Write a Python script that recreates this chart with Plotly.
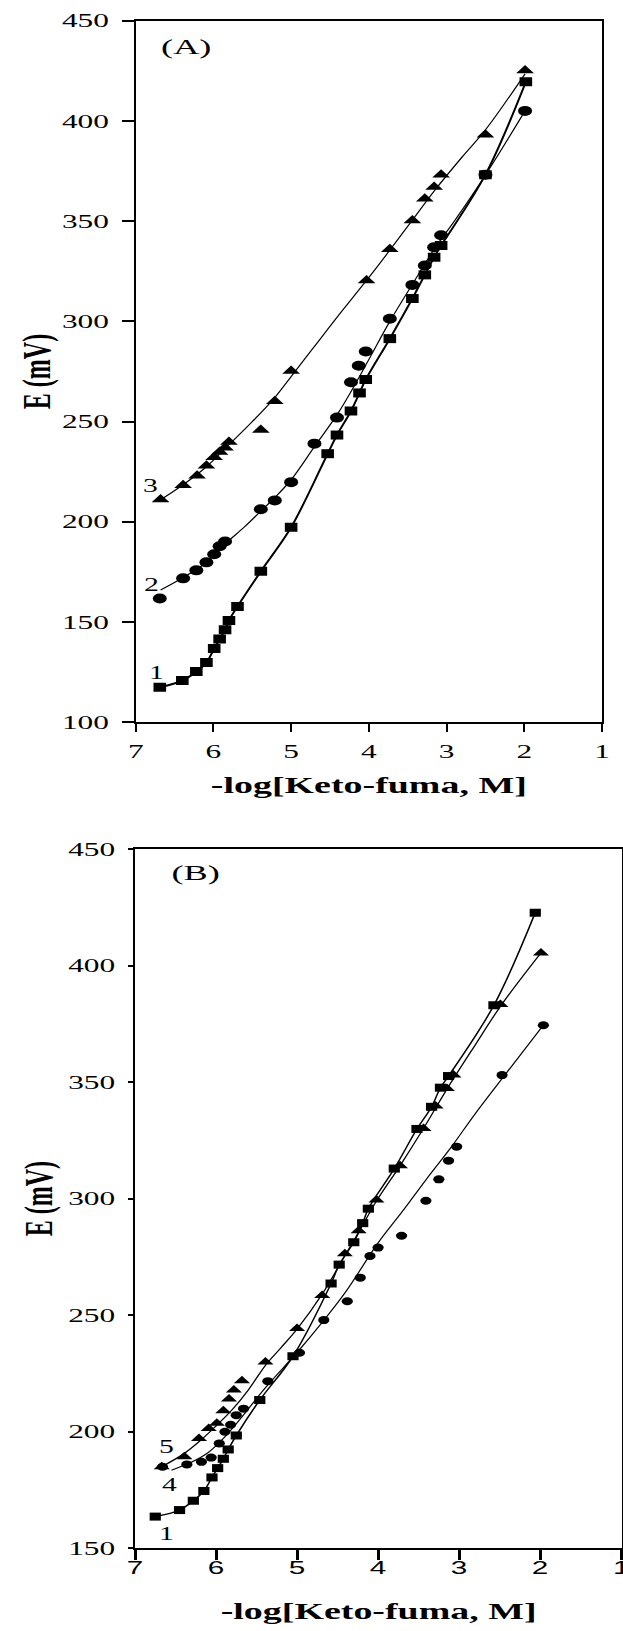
import plotly.graph_objects as go

# ---------------- Panel A data ----------------
a1_x = [6.69, 6.40, 6.22, 6.09, 5.99, 5.92, 5.85, 5.80, 5.69, 5.39, 5.00, 4.53, 4.41, 4.23, 4.12, 4.04, 3.73, 3.44, 3.28, 3.16, 3.07, 2.50, 1.98]
a1_y = [117.5, 120.8, 125.3, 129.8, 136.8, 141.5, 146.2, 150.8, 157.8, 175.3, 197.3, 234.0, 243.3, 255.3, 264.3, 271.0, 291.4, 311.4, 323.2, 332.0, 337.8, 373.2, 419.5]

a2_x = [6.69, 6.39, 6.22, 6.09, 5.99, 5.92, 5.85, 5.39, 5.21, 5.00, 4.70, 4.41, 4.23, 4.13, 4.04, 3.73, 3.44, 3.28, 3.16, 3.07, 2.50, 1.99]
a2_y = [161.8, 171.8, 175.8, 179.8, 183.8, 187.8, 190.2, 206.3, 210.7, 219.8, 239.0, 252.0, 269.6, 277.9, 285.0, 301.3, 318.2, 327.9, 337.0, 343.0, 373.2, 405.0]

a3_x = [6.68, 6.39, 6.21, 6.09, 5.99, 5.92, 5.85, 5.80, 5.39, 5.21, 5.00, 4.03, 3.73, 3.44, 3.28, 3.16, 3.07, 2.50, 1.99]
a3_y = [211.2, 218.2, 223.0, 228.0, 232.2, 234.8, 237.0, 239.8, 245.8, 260.2, 275.3, 320.4, 336.0, 350.3, 361.2, 367.0, 373.2, 393.1, 425.1]

# fitted curves
a2_fit_x = [6.68, 6.40, 6.10, 5.85, 5.60, 5.40, 5.20, 5.00, 4.70, 4.40, 4.20, 4.00, 3.73, 3.44, 3.16, 2.90, 2.50, 1.99]
a2_fit_y = [166.0, 172.0, 179.5, 189.0, 197.5, 205.0, 212.5, 221.0, 237.5, 254.0, 267.0, 281.0, 300.0, 318.5, 336.0, 350.0, 373.0, 405.0]
a3_fit_x = [6.68, 6.39, 6.09, 5.80, 5.50, 5.21, 5.00, 4.70, 4.40, 4.03, 3.73, 3.44, 3.16, 2.80, 2.50, 1.99]
a3_fit_y = [211.0, 218.5, 227.5, 238.5, 250.0, 262.0, 272.5, 287.5, 302.5, 320.4, 335.5, 350.5, 365.0, 382.0, 395.5, 423.5]

# ---------------- Panel B data ----------------
b1_x = [6.75, 6.45, 6.28, 6.15, 6.05, 5.98, 5.91, 5.85, 5.75, 5.46, 5.05, 4.58, 4.48, 4.30, 4.19, 4.12, 3.80, 3.52, 3.34, 3.23, 3.13, 2.57, 2.06]
b1_y = [163.6, 166.4, 170.4, 174.6, 180.4, 184.4, 188.4, 192.4, 198.4, 213.6, 232.4, 263.6, 271.7, 281.3, 289.5, 295.7, 312.9, 329.9, 339.4, 347.6, 352.6, 383.0, 422.7]

b5_x = [6.67, 6.39, 6.21, 6.09, 5.99, 5.91, 5.84, 5.78, 5.68, 5.39, 5.00, 4.69, 4.41, 4.24, 4.02, 3.73, 3.44, 3.29, 3.15, 3.07, 2.49, 1.99]
b5_y = [185.0, 189.3, 197.1, 201.4, 203.6, 209.0, 214.1, 217.9, 221.9, 229.9, 244.3, 258.4, 276.4, 286.2, 299.4, 314.1, 330.1, 339.7, 347.3, 353.0, 383.3, 405.4]

b4_x = [6.66, 6.36, 6.18, 6.06, 5.96, 5.89, 5.82, 5.75, 5.66, 5.36, 4.97, 4.67, 4.38, 4.22, 4.10, 4.00, 3.71, 3.41, 3.25, 3.13, 3.03, 2.47, 1.96]
b4_y = [185.0, 186.0, 187.1, 188.9, 195.0, 200.0, 203.0, 207.1, 209.9, 221.7, 233.9, 247.9, 256.0, 266.1, 275.4, 279.0, 284.1, 299.1, 308.3, 316.3, 322.3, 353.0, 374.4]

b5_fit_x = [6.67, 6.40, 6.20, 6.00, 5.80, 5.60, 5.39, 5.20, 5.00, 4.69, 4.41, 4.24, 4.02, 3.73, 3.44, 3.15, 2.80, 2.49, 1.99]
b5_fit_y = [185.0, 190.5, 196.0, 202.5, 209.5, 218.0, 228.5, 236.0, 244.0, 259.0, 275.5, 285.5, 299.0, 314.1, 330.1, 347.0, 366.0, 382.5, 405.4]
b4_fit_x = [6.55, 6.30, 6.10, 5.90, 5.70, 5.40, 5.00, 4.70, 4.40, 4.00, 3.70, 3.40, 3.10, 2.80, 2.47, 1.96]
b4_fit_y = [183.5, 187.0, 191.0, 197.5, 205.5, 218.5, 234.0, 246.5, 260.0, 281.0, 294.5, 308.5, 322.0, 336.5, 351.5, 374.4]

# curve labels
lab_a = ["1", "2", "3"]
lab_a_x = [6.73, 6.80, 6.81]
lab_a_y = [124.5, 168.7, 217.8]
lab_b = ["1", "4", "5"]
lab_b_x = [6.61, 6.58, 6.61]
lab_b_y = [156.1, 177.1, 193.6]

x_ticks = [7, 6, 5, 4, 3, 2, 1]
ya_ticks = [100, 150, 200, 250, 300, 350, 400, 450]
yb_ticks = [150, 200, 250, 300, 350, 400, 450]

SERIF = "Liberation Serif, Times New Roman, serif"
SANS = "Liberation Sans, Arial, sans-serif"

fig = go.Figure()

def line(x, y, xa, ya, w=1.2):
    fig.add_trace(go.Scatter(x=x, y=y, mode="lines", xaxis=xa, yaxis=ya,
                             line=dict(color="black", width=w, shape="spline", smoothing=1.0),
                             hoverinfo="skip", showlegend=False))

def pts(x, y, xa, ya, sym, size):
    fig.add_trace(go.Scatter(x=x, y=y, mode="markers", xaxis=xa, yaxis=ya,
                             marker=dict(symbol=sym, size=size, color="black", line=dict(width=0)),
                             showlegend=False))

# Panel A
line(a1_x, a1_y, "x", "y", 2.0)
line(a2_fit_x, a2_fit_y, "x", "y")
line(a3_fit_x, a3_fit_y, "x", "y")
pts(a1_x, a1_y, "x", "y", "square", 9)
pts(a2_x, a2_y, "x", "y", "circle", 10)
pts(a3_x, a3_y, "x", "y", "triangle-up", 11)

# Panel B
line(b1_x, b1_y, "x2", "y2", 1.5)
line(b5_fit_x, b5_fit_y, "x2", "y2", 1.3)
line(b4_fit_x, b4_fit_y, "x2", "y2", 1.2)
pts(b1_x, b1_y, "x2", "y2", "square", 8)
pts(b5_x, b5_y, "x2", "y2", "triangle-up", 10)
pts(b4_x, b4_y, "x2", "y2", "circle", 8)

ann = []
for t, x, y in zip(lab_a, lab_a_x, lab_a_y):
    ann.append(dict(text=t, x=x, y=y, xref="x", yref="y", showarrow=False,
                    font=dict(family=SERIF, size=18, color="black")))
for t, x, y in zip(lab_b, lab_b_x, lab_b_y):
    ann.append(dict(text=t, x=x, y=y, xref="x2", yref="y2", showarrow=False,
                    font=dict(family=SERIF, size=18, color="black")))
ann.append(dict(text="(A)", x=6.35, y=437, xref="x", yref="y", showarrow=False,
                font=dict(family=SERIF, size=22, color="black")))
ann.append(dict(text="(B)", x=6.25, y=440, xref="x2", yref="y2", showarrow=False,
                font=dict(family=SERIF, size=22, color="black")))

axis_common = dict(showgrid=False, zeroline=False, showline=True, linecolor="black",
                   linewidth=2, mirror=True, ticks="outside", tickcolor="black",
                   automargin=False)

W, H = 623, 1631
fig.update_layout(
    width=W, height=H, margin=dict(l=0, r=0, t=0, b=0, autoexpand=False),
    plot_bgcolor="white", paper_bgcolor="white", showlegend=False,
    annotations=ann,
    xaxis=dict(axis_common, domain=[135.7 / W, 602 / W], range=[7, 1], tickvals=x_ticks,
               ticklen=8, tickwidth=2, ticklabelstandoff=3,
               tickfont=dict(family=SERIF, size=19, color="black"),
               title=dict(text="<b>-log[Keto-fuma, M]</b>", standoff=16,
                          font=dict(family=SERIF, size=23, color="black")),
               anchor="y"),
    yaxis=dict(axis_common, domain=[(H - 722.3) / H, (H - 20.7) / H], range=[100, 450],
               tickvals=ya_ticks, ticklen=12, tickwidth=2, ticklabelstandoff=9,
               tickfont=dict(family=SERIF, size=19, color="black"),
               title=dict(text="<b>E (mV)</b>", standoff=28,
                          font=dict(family=SERIF, size=24, color="black")),
               anchor="x"),
    xaxis2=dict(axis_common, domain=[135 / W, 0.999], range=[7, 0.985], tickvals=x_ticks,
                ticklen=10, tickwidth=3, ticklabelstandoff=-8, ticklabeloverflow="allow",
                tickfont=dict(family=SANS, size=18, color="black"),
                title=dict(text="<b>-log[Keto-fuma, M]</b>", standoff=26,
                           font=dict(family=SERIF, size=23, color="black")),
                anchor="y2"),
    yaxis2=dict(axis_common, domain=[(H - 1548.3) / H, (H - 849) / H], range=[150, 450],
                tickvals=yb_ticks, ticklen=5, tickwidth=2, ticklabelstandoff=9,
                tickfont=dict(family=SERIF, size=19, color="black"),
                title=dict(text="<b>E (mV)</b>", standoff=32,
                           font=dict(family=SERIF, size=24, color="black")),
                anchor="x2"),
)

# The reference picture is horizontally stretched: widen text glyphs and markers to match.
post = r"""
(function(){
  try {
    document.documentElement.style.margin = '0';
    document.body.style.margin = '0';
    document.body.style.padding = '0';
    var S = 1.65, M = 1.4;
    var gd = document.getElementById('{plot_id}');
    if (!gd) return;
    var txt = gd.querySelectorAll('g.xtick text, g.ytick text, g.x2tick text, g.y2tick text, text.xtitle, text.x2title, text.annotation-text');
    txt.forEach(function(el){
      var x = parseFloat(el.getAttribute('x')); if (isNaN(x)) x = 0;
      var t = el.getAttribute('transform') || '';
      el.setAttribute('transform', t + ' translate(' + x + ',0) scale(' + S + ',1) translate(' + (-x) + ',0)');
    });
    var yt = gd.querySelectorAll('text.ytitle, text.y2title');
    yt.forEach(function(el){
      var y = parseFloat(el.getAttribute('y')); if (isNaN(y)) y = 0;
      var c = y - 8;
      var t = el.getAttribute('transform') || '';
      el.setAttribute('transform', t + ' translate(0,' + c + ') scale(1,' + S + ') translate(0,' + (-c) + ')');
    });
    var p = gd.querySelectorAll('g.points path.point');
    p.forEach(function(el){
      var t = el.getAttribute('transform') || '';
      el.setAttribute('transform', t + ' scale(' + M + ',1)');
    });
  } catch (e) {}
})();
"""

fig.write_html("out.html", post_script=post, config={"displayModeBar": False})
